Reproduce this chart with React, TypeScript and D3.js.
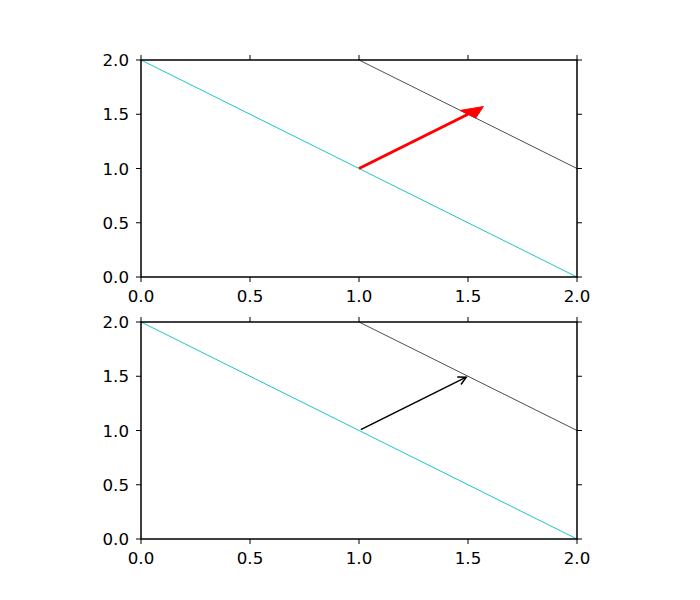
import React from "react";
import * as d3 from "d3";

const W = 700;
const H = 600;

const xTicks = [0, 0.5, 1.0, 1.5, 2.0];
const yTicks = [0, 0.5, 1.0, 1.5, 2.0];

// cyan line
const cyanLine: [number, number][] = [[0, 2], [2, 0]];
// black thin line
const blackLine: [number, number][] = [[1, 2], [2, 1]];
// top arrow (ax.arrow style)
const arrowStart: [number, number] = [1, 1];
const arrowDelta: [number, number] = [0.5, 0.5];
const arrowHeadWidth = 0.1;
const arrowHeadLength = 0.1;
// bottom annotate arrow
const annoFrom: [number, number] = [1, 1];
const annoTo: [number, number] = [1.5, 1.5];

const panels = [
  { top: 60, bottom: 277, kind: "fancy" },
  { top: 322, bottom: 539, kind: "annotate" },
];

const left = 141;
const right = 577;
const FONT = "DejaVu Sans";
const FS = 16.67;

function Panel({ top, bottom, kind }: { top: number; bottom: number; kind: string }) {
  const x = d3.scaleLinear().domain([0, 2]).range([left, right]);
  const y = d3.scaleLinear().domain([0, 2]).range([bottom, top]);
  const line = d3
    .line<[number, number]>()
    .x((d) => x(d[0]))
    .y((d) => y(d[1]));

  let arrowEl: React.ReactNode = null;
  if (kind === "fancy") {
    const [x0, y0] = arrowStart;
    const [dx, dy] = arrowDelta;
    const len = Math.hypot(dx, dy);
    const ux = dx / len;
    const uy = dy / len;
    const px = -uy;
    const py = ux;
    const bx = x0 + dx;
    const by = y0 + dy;
    const tx = bx + ux * arrowHeadLength;
    const ty = by + uy * arrowHeadLength;
    const hw = arrowHeadWidth / 2;
    const headPts: [number, number][] = [
      [bx + px * hw, by + py * hw],
      [tx, ty],
      [bx - px * hw, by - py * hw],
    ];
    arrowEl = (
      <g>
        <line
          x1={x(x0)}
          y1={y(y0)}
          x2={x(bx)}
          y2={y(by)}
          stroke="red"
          strokeWidth={3}
        />
        <path
          d={line(headPts)! + "Z"}
          fill="red"
          stroke="red"
          strokeWidth={1}
          strokeLinejoin="miter"
        />
      </g>
    );
  } else {
    const sx = x(annoFrom[0]);
    const sy = y(annoFrom[1]);
    const ex = x(annoTo[0]);
    const ey = y(annoTo[1]);
    const ang = Math.atan2(ey - sy, ex - sx);
    const shrink = 2;
    const ax0 = sx + Math.cos(ang) * shrink;
    const ay0 = sy + Math.sin(ang) * shrink;
    const ax1 = ex - Math.cos(ang) * shrink;
    const ay1 = ey - Math.sin(ang) * shrink;
    const hl = 9;
    const ha = (28 * Math.PI) / 180;
    const h1x = ax1 - hl * Math.cos(ang - ha);
    const h1y = ay1 - hl * Math.sin(ang - ha);
    const h2x = ax1 - hl * Math.cos(ang + ha);
    const h2y = ay1 - hl * Math.sin(ang + ha);
    arrowEl = (
      <g stroke="black" strokeWidth={1.5} fill="none">
        <line x1={ax0} y1={ay0} x2={ax1} y2={ay1} />
        <path d={`M${h1x},${h1y}L${ax1},${ay1}L${h2x},${h2y}`} />
      </g>
    );
  }

  const tl = 5;
  return (
    <g>
      <path d={line(cyanLine)!} stroke="#00bfbf" strokeWidth={0.9} fill="none" />
      <path d={line(blackLine)!} stroke="black" strokeWidth={0.7} fill="none" />
      {arrowEl}
      <rect
        x={left}
        y={top}
        width={right - left}
        height={bottom - top}
        fill="none"
        stroke="black"
        strokeWidth={1.5}
      />
      {xTicks.map((t) => (
        <g key={"x" + t}>
          <line x1={x(t)} x2={x(t)} y1={bottom} y2={bottom + tl} stroke="black" strokeWidth={1} />
          <line x1={x(t)} x2={x(t)} y1={top} y2={top - tl} stroke="black" strokeWidth={1} />
          <text
            x={x(t)}
            y={bottom + 25}
            textAnchor="middle"
            fontFamily={FONT}
            fontSize={FS}
            fill="black"
          >
            {t.toFixed(1)}
          </text>
        </g>
      ))}
      {yTicks.map((t) => (
        <g key={"y" + t}>
          <line x1={left} x2={left - tl} y1={y(t)} y2={y(t)} stroke="black" strokeWidth={1} />
          <line x1={right} x2={right + tl} y1={y(t)} y2={y(t)} stroke="black" strokeWidth={1} />
          <text
            x={left - 12}
            y={y(t) + 6}
            textAnchor="end"
            fontFamily={FONT}
            fontSize={FS}
            fill="black"
          >
            {t.toFixed(1)}
          </text>
        </g>
      ))}
    </g>
  );
}

export default function App() {
  return (
    <div>
      <style>{"body{margin:0}"}</style>
      <svg width={W} height={H} style={{ display: "block", background: "white" }}>
        <rect width={W} height={H} fill="white" />
        {panels.map((p, i) => (
          <Panel key={i} top={p.top} bottom={p.bottom} kind={p.kind} />
        ))}
      </svg>
    </div>
  );
}
